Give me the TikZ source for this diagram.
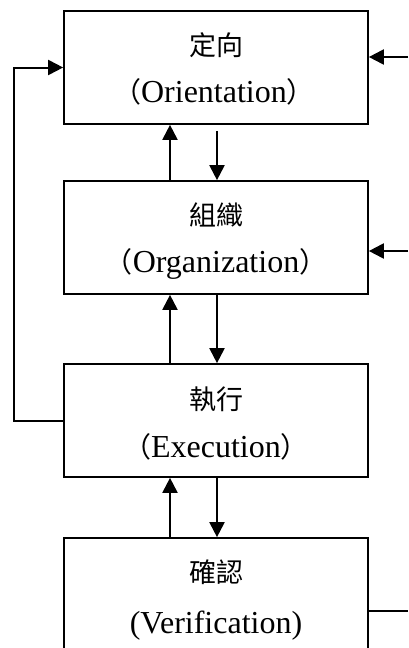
\documentclass[tikz,border=0pt]{standalone}
\usepackage{fontspec}
\setmainfont{Liberation Serif}
\newfontfamily\cjk{Noto Sans CJK TC}
\usetikzlibrary{arrows.meta,calc}

\tikzset{
  stage/.style={draw, line width=1.7pt, minimum width=304pt, minimum height=113pt,
                inner sep=0pt, fill=white},
  zh/.style={anchor=base, inner sep=0pt, font=\cjk\fontsize{27}{27}\selectfont},
  en/.style={anchor=base, inner sep=0pt, font=\fontsize{32}{32}\selectfont},
  arr/.style={line width=2pt, -{Triangle[length=15pt,width=15pt]}},
  ln/.style={line width=2pt},
}
\newcommand{\lp}{{\cjk\fontsize{28}{28}\selectfont （}}
\newcommand{\rp}{{\cjk\fontsize{28}{28}\selectfont ）}}

\begin{document}
\begin{tikzpicture}[x=1pt, y=-1pt]
  \useasboundingbox (0,0) rectangle (408,648);

  % the four stages
  \node[stage] (b1) at (216,67.5) {};
  \node[stage] (b2) at (216,237.5) {};
  \node[stage] (b3) at (216,420.5) {};
  \node[stage] (b4) at (216,594.5) {};

  % labels: Chinese line and English line
  \node[zh] (z1) at (216,55) {定向};
  \node[en] (e1) at (214,102) {\lp Orientation\rp};
  \node[zh] (z2) at (216,225) {組織};
  \node[en] (e2) at (216,272) {\lp Organization\rp};
  \node[zh] (z3) at (216,409) {執行};
  \node[en] (e3) at (216,457) {\lp Execution\rp};
  \node[zh] (z4) at (216,582) {確認};
  \node[en] (e4) at (216,633) {(Verification)};

  % up and down links between neighbouring stages
  \draw[arr] ([xshift=-46pt]b2.north) -- ([xshift=-46pt]b1.south);
  \draw[arr] ([xshift=1pt,yshift=-6pt]b1.south) -- ([xshift=1pt]b2.north);
  \draw[arr] ([xshift=-46pt]b3.north) -- ([xshift=-46pt]b2.south);
  \draw[arr] ([xshift=1pt]b2.south) -- ([xshift=1pt]b3.north);
  \draw[arr] ([xshift=-46pt]b4.north) -- ([xshift=-46pt]b3.south);
  \draw[arr] ([xshift=1pt]b3.south) -- ([xshift=1pt]b4.north);

  % feedback loop from execution back to orientation
  \coordinate (lx) at (14,0);
  \draw[arr] (b3.west) -- (b3.west -| lx) |- (b1.west);

  % inputs from the right
  \coordinate (r1) at (408,57);
  \coordinate (r2) at (408,251);
  \coordinate (r4) at (408,611);
  \draw[arr] (r1) -- (r1 -| b1.east);
  \draw[arr] (r2) -- (r2 -| b2.east);
  \draw[ln] (r4 -| b4.east) -- (r4);
\end{tikzpicture}
\end{document}
